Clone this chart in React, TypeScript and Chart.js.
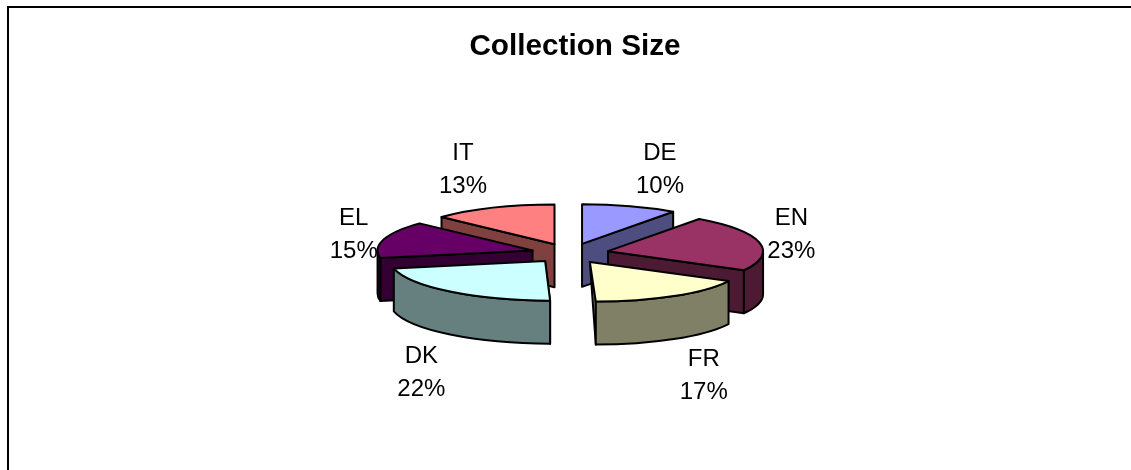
import React, { useEffect, useRef } from "react";
import { Chart, registerables } from "chart.js";

Chart.register(...registerables);

const categories = ["DE", "EN", "FR", "DK", "EL", "IT"];
const sizes = [10, 23, 17, 22, 15, 13];
const percentLabels = ["10%", "23%", "17%", "22%", "15%", "13%"];
const topColors = ["#9999FF", "#993366", "#FFFFCC", "#CCFFFF", "#660066", "#FF8080"];
const sideColors = ["#4D4D80", "#4D1A33", "#808066", "#668080", "#330033", "#804040"];
// painter's order, back to front
const sideOrder = [5, 0, 4, 1, 2, 3];
// label nudges away from each slice's outer edge
const labelNudgeX = [30, 32, 35, -25, -30, -30];
const labelNudgeY = [-37, -8, 79, 81, -5, -38];
// slight perspective lean of the front slices
const sliceShear = [0, 0, 0.15, 0.125, 0, 0];

const SQUASH = 0.256;
const EXPLODE = 39;
const DEPTH = 43;
const RADIUS = 155;
const SHIFT_X = -5;

const pie3d = {
  id: "pie3d",
  beforeDatasetDraw(chart: any) {
    const ctx = chart.ctx;
    const arcs = chart.getDatasetMeta(0).data;
    const geo = arcs.map((a: any, i: number) => {
      const mid = (a.startAngle + a.endAngle) / 2;
      return {
        a,
        x: a.x + SHIFT_X + Math.cos(mid) * EXPLODE,
        y: a.y + Math.sin(mid) * EXPLODE * SQUASH,
        rx: a.outerRadius,
        ry: a.outerRadius * SQUASH,
        k: sliceShear[i],
      };
    });
    ctx.save();
    ctx.lineWidth = 2;
    ctx.lineJoin = "round";
    ctx.strokeStyle = "#000";
    const pt = (g: any, t: number) => {
      const dy = Math.sin(t) * g.ry;
      return [g.x + Math.cos(t) * g.rx + g.k * dy, g.y + dy];
    };
    const ell = (g: any, yOff: number, from: number, to: number, ccw: boolean) => {
      ctx.save();
      ctx.transform(1, 0, g.k, 1, g.x, g.y + yOff);
      ctx.ellipse(0, 0, g.rx, g.ry, 0, from, to, ccw);
      ctx.restore();
    };
    for (const i of sideOrder) {
      const g = geo[i];
      const s = g.a.startAngle;
      const e = g.a.endAngle;
      ctx.fillStyle = sideColors[i];
      // radial walls that face the viewer
      [
        [s, -1],
        [e, 1],
      ].forEach(([t, sign]) => {
        const c = Math.cos(t) * sign;
        const nearVertical = Math.abs(c) < 1e-6;
        if (!nearVertical && c < 0) return;
        if (nearVertical && (g.k === 0 || Math.sin(t) < 0)) return;
        const [px, py] = pt(g, t);
        ctx.beginPath();
        ctx.moveTo(g.x, g.y);
        ctx.lineTo(px, py);
        ctx.lineTo(px, py + DEPTH);
        if (!nearVertical) ctx.lineTo(g.x, g.y + DEPTH);
        ctx.closePath();
        ctx.fill();
        ctx.stroke();
      });
      // outer wall, front-facing part only
      const fs = Math.max(s, 0);
      const fe = Math.min(e, Math.PI);
      if (fe > fs) {
        ctx.beginPath();
        ell(g, 0, fs, fe, false);
        ell(g, DEPTH, fe, fs, true);
        ctx.closePath();
        ctx.fill();
        ctx.stroke();
      }
    }
    for (let i = 0; i < geo.length; i++) {
      const g = geo[i];
      ctx.save();
      ctx.transform(1, 0, g.k, 1, g.x, g.y);
      ctx.scale(1, SQUASH);
      ctx.translate(-g.a.x, -g.a.y);
      g.a.draw(ctx, chart.chartArea);
      ctx.restore();
      ctx.beginPath();
      ctx.moveTo(g.x, g.y);
      ell(g, 0, g.a.startAngle, g.a.endAngle, false);
      ctx.closePath();
      ctx.stroke();
    }
    ctx.restore();
    return false;
  },
  afterDraw(chart: any) {
    const ctx = chart.ctx;
    const arcs = chart.getDatasetMeta(0).data;
    ctx.save();
    ctx.strokeStyle = "#000";
    ctx.lineWidth = 2;
    ctx.beginPath();
    ctx.moveTo(8, 470);
    ctx.lineTo(8, 7);
    ctx.lineTo(1131, 7);
    ctx.stroke();
    ctx.fillStyle = "#000";
    ctx.font = '24px "Liberation Sans", Arial, sans-serif';
    ctx.textAlign = "center";
    ctx.textBaseline = "middle";
    arcs.forEach((a: any, i: number) => {
      const mid = (a.startAngle + a.endAngle) / 2;
      const d = a.outerRadius + EXPLODE;
      const x = a.x + SHIFT_X + Math.cos(mid) * d + labelNudgeX[i];
      const y = a.y + Math.sin(mid) * d * SQUASH + labelNudgeY[i];
      ctx.fillText(categories[i], x, y - 16);
      ctx.fillText(percentLabels[i], x, y + 17);
    });
    ctx.restore();
  },
};

export default function App() {
  const ref = useRef<HTMLCanvasElement>(null);
  useEffect(() => {
    const prev = document.body.style.margin;
    document.body.style.margin = "0";
    const chart = new Chart(ref.current as HTMLCanvasElement, {
      type: "pie",
      data: {
        labels: categories,
        datasets: [
          {
            data: sizes,
            backgroundColor: topColors,
            borderWidth: 0,
          },
        ],
      },
      options: {
        responsive: false,
        animation: false,
        events: [],
        radius: RADIUS,
        layout: { padding: { left: 19, right: 0, top: 0, bottom: 30 } },
        plugins: {
          legend: { display: false },
          tooltip: { enabled: false },
          title: {
            display: true,
            text: "Collection Size",
            color: "#000",
            font: { family: '"Liberation Sans", Arial, sans-serif', size: 29.7, weight: "bold" },
            padding: { top: 29, bottom: 2 },
          },
        },
      },
      plugins: [pie3d],
    } as any);
    return () => {
      chart.destroy();
      document.body.style.margin = prev;
    };
  }, []);
  return <canvas ref={ref} width={1131} height={470} style={{ display: "block", background: "#fff" }} />;
}
